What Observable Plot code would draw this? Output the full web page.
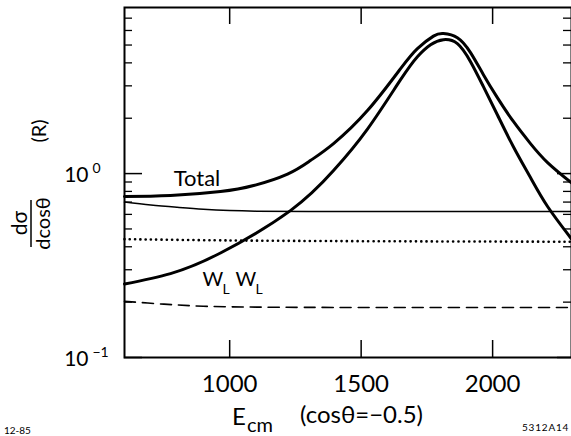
<!DOCTYPE html>
<html><head><meta charset="utf-8">
<script src="https://cdn.jsdelivr.net/npm/d3@7"></script>
<script src="https://cdn.jsdelivr.net/npm/@observablehq/plot@0.6"></script>
<style>
html,body{margin:0;padding:0;background:#fff;}
#chart{width:571px;height:436px;overflow:hidden;position:relative;}
</style></head><body><div id="chart"></div>
<script>
// ---- data ----
const xTicks = [1000, 1500, 2000];
const yMajorTicks = [0.1, 1];
const yTickExponents = ["−1", "0"];
const yMinorTicks = [0.2, 0.3, 0.4, 0.5, 0.6, 0.7, 0.8, 0.9, 2, 3, 4, 5, 6, 7];

const totalE = [600, 775, 965, 1091, 1220, 1307, 1395, 1524, 1650, 1714, 1775, 1813, 1866, 1916, 1965, 2018, 2079, 2144, 2209, 2300];
const totalV = [0.75, 0.759, 0.798, 0.861, 0.994, 1.177, 1.456, 2.2, 3.72, 4.78, 5.59, 5.77, 5.48, 4.55, 3.45, 2.59, 1.92, 1.456, 1.148, 0.89];

const wlwlE = [600, 775, 965, 1231, 1395, 1524, 1650, 1714, 1764, 1813, 1866, 1916, 1965, 2018, 2079, 2144, 2209, 2300];
const wlwlV = [0.251, 0.286, 0.370, 0.629, 1.038, 1.745, 3.24, 4.32, 5.02, 5.35, 5.09, 4.06, 2.97, 2.09, 1.40, 0.951, 0.662, 0.441];

const thinE = [600, 700, 800, 900, 1000, 1100, 1300, 1600, 2000, 2300];
const thinV = [0.70, 0.675, 0.656, 0.64, 0.63, 0.625, 0.623, 0.623, 0.623, 0.623];

const dottedE = [600, 1000, 1500, 2300];
const dottedV = [0.44, 0.433, 0.429, 0.426];

const dashedE = [600, 750, 900, 1100, 1500, 2300];
const dashedV = [0.202, 0.195, 0.19, 0.188, 0.187, 0.187];

const rows = (E, V) => E.map((e, i) => ({E: e, v: V[i]}));

// ---- layout ----
const W = 571, H = 436, mL = 124, mR = 0, mT = 7, mB = 79;
const pw = W - mL - mR, ph = H - mT - mB;
const font = "Lato, 'Open Sans', 'DejaVu Sans', sans-serif";
const fw = 400;

const chart = Plot.plot({
  width: W, height: H,
  marginLeft: mL, marginRight: mR, marginTop: mT, marginBottom: mB,
  style: {background: "#fff", color: "#000", fontFamily: font, overflow: "visible"},
  x: {domain: [600, 2300]},
  y: {type: "log", domain: [0.1, 8], axis: null},
  marks: [
    Plot.line(rows(dashedE, dashedV), {x: "E", y: "v", stroke: "#000", strokeWidth: 1.6, strokeDasharray: "11,7", curve: "catmull-rom"}),
    Plot.line(rows(dottedE, dottedV), {x: "E", y: "v", stroke: "#000", strokeWidth: 2.6, strokeDasharray: "0.1,5.2", strokeLinecap: "round", curve: "catmull-rom"}),
    Plot.line(rows(thinE, thinV), {x: "E", y: "v", stroke: "#000", strokeWidth: 1.5, curve: "catmull-rom"}),
    Plot.line(rows(wlwlE, wlwlV), {x: "E", y: "v", stroke: "#000", strokeWidth: 3, curve: "natural"}),
    Plot.line(rows(totalE, totalV), {x: "E", y: "v", stroke: "#000", strokeWidth: 3, curve: "natural"}),
    Plot.frame({stroke: "#000", strokeWidth: 2}),
    // inward ticks on all four sides
    Plot.ruleX(xTicks, {x: d => d, insetTop: ph - 17, strokeWidth: 1.5}),
    Plot.ruleX(xTicks, {x: d => d, insetBottom: ph - 17, strokeWidth: 1.5}),
    Plot.ruleY(yMajorTicks, {y: d => d, insetRight: pw - 18, strokeWidth: 1.5}),
    Plot.ruleY(yMajorTicks, {y: d => d, insetLeft: pw - 14, strokeWidth: 1.5}),
    Plot.ruleY(yMinorTicks, {y: d => d, insetRight: pw - 8, strokeWidth: 1.3}),
    Plot.ruleY(yMinorTicks, {y: d => d, insetLeft: pw - 8, strokeWidth: 1.3}),
    // x tick labels
    Plot.axisX({ticks: xTicks, tickSize: 0, tickPadding: 17, fontSize: 24, label: null, tickFormat: d => String(d), fontWeight: fw}),
    // y tick labels 10^n
    Plot.text(yMajorTicks, {y: d => d, frameAnchor: "left", text: () => "10", dx: -36, dy: 8, textAnchor: "end", lineAnchor: "bottom", fontSize: 21, fontWeight: fw}),
    Plot.text(yMajorTicks, {y: d => d, frameAnchor: "left", text: (d, i) => yTickExponents[i], dx: -32, dy: -1, textAnchor: "start", lineAnchor: "bottom", fontSize: 14, fontWeight: fw}),
    // curve annotations
    Plot.text(["Total"], {x: 787, y: 0.86, text: d => d, textAnchor: "start", lineAnchor: "bottom", fontSize: 22, fontWeight: fw}),
    Plot.text(["W"], {x: 897, y: 0.246, text: d => d, textAnchor: "start", lineAnchor: "bottom", fontSize: 20, fontWeight: fw}),
    Plot.text(["L"], {x: 897, y: 0.246, dx: 20, dy: 8, text: d => d, textAnchor: "start", lineAnchor: "bottom", fontSize: 14, fontWeight: fw}),
    Plot.text(["W"], {x: 897, y: 0.246, dx: 33, text: d => d, textAnchor: "start", lineAnchor: "bottom", fontSize: 20, fontWeight: fw}),
    Plot.text(["L"], {x: 897, y: 0.246, dx: 53, dy: 8, text: d => d, textAnchor: "start", lineAnchor: "bottom", fontSize: 14, fontWeight: fw})
  ]
});
document.getElementById("chart").appendChild(chart);

// ---- axis titles and figure notes (text) ----
const svg = d3.select(chart);
const g = svg.append("g").attr("font-family", font).attr("font-weight", fw).attr("fill", "#000").attr("text-anchor", "start");
g.append("text").attr("transform", "translate(27,223) rotate(-90)").attr("text-anchor", "middle").attr("font-size", 21).text("dσ");
g.append("line").attr("x1", 31).attr("x2", 31).attr("y1", 200).attr("y2", 247).attr("stroke", "#000").attr("stroke-width", 1.5);
g.append("text").attr("transform", "translate(50,223.5) rotate(-90)").attr("text-anchor", "middle").attr("font-size", 20).text("dcosθ");
g.append("text").attr("transform", "translate(46,131) rotate(-90)").attr("text-anchor", "middle").attr("font-size", 20).text("(R)");
const xt = g.append("text").attr("x", 232).attr("y", 425).attr("font-size", 24);
xt.append("tspan").text("E");
xt.append("tspan").attr("dx", 1).attr("dy", 7).attr("font-size", 20).text("cm");
g.append("text").attr("x", 300).attr("y", 423).attr("font-size", 24).text("(cosθ=−0.5)");
g.append("text").attr("x", 4).attr("y", 434).attr("font-size", 10).text("12-85");
g.append("text").attr("x", 522).attr("y", 431).attr("font-size", 10).attr("letter-spacing", 0.8).text("5312A14");
</script>
</body></html>
